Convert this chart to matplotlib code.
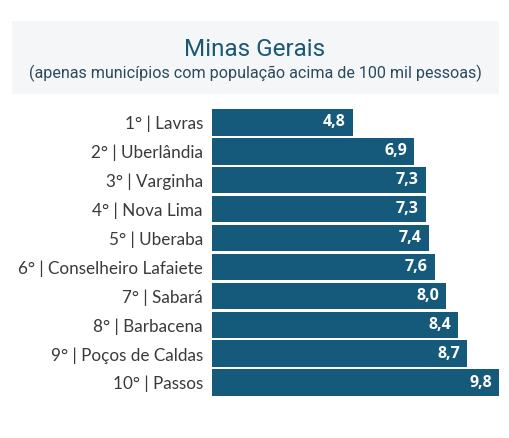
import matplotlib
matplotlib.use("Agg")
import matplotlib.pyplot as plt
from matplotlib.patches import Rectangle
from matplotlib.transforms import offset_copy

categories = ["1° | Lavras", "2° | Uberlândia", "3° | Varginha", "4° | Nova Lima",
              "5° | Uberaba", "6° | Conselheiro Lafaiete", "7° | Sabará",
              "8° | Barbacena", "9° | Poços de Caldas", "10° | Passos"]
values = [4.8, 6.9, 7.3, 7.3, 7.4, 7.6, 8.0, 8.4, 8.7, 9.8]
value_labels = ["4,8", "6,9", "7,3", "7,3", "7,4", "7,6", "8,0", "8,4", "8,7", "9,8"]
title = "Minas Gerais"
subtitle = "(apenas municípios com população acima de 100 mil pessoas)"

W, H, DPI = 510, 438, 100
fig = plt.figure(figsize=(W / DPI, H / DPI), dpi=DPI)
fig.patch.set_facecolor("white")

# title box
fig.patches.append(Rectangle((12 / W, 1 - 94 / H), 487 / W, 73 / H,
                             transform=fig.transFigure, facecolor="#f4f6f8",
                             edgecolor="none", zorder=0))
fig.text(255 / W, 1 - 56 / H, title, ha="center", va="baseline",
         fontsize=17.5, color="#1b5876", family="Roboto")
fig.text(255 / W, 1 - 78 / H, subtitle, ha="center", va="baseline",
         fontsize=11.6, color="#2a4a5e", family="Roboto")

left, right = 212 / W, 499 / W
top, bottom = 1 - 109 / H, 1 - 396 / H
ax = fig.add_axes([left, bottom, right - left, top - bottom])
bh = 0.92
ypos = list(range(len(values)))
ax.barh(ypos, values, height=bh, color="#155a7a")
ax.set_xlim(0, max(values))
ax.set_ylim(len(values) - 1 + bh / 2, -bh / 2)
ax.set_yticks(ypos)
ax.set_yticklabels(categories, fontsize=12.3, color="#3a3a3a", family="Lato")
ax.tick_params(axis="y", length=0, pad=6.5)
ax.set_xticks([])
for s in ax.spines.values():
    s.set_visible(False)
ax.patch.set_alpha(0)

for y, v, lab in zip(ypos, values, value_labels):
    tr = offset_copy(ax.transData, fig=fig, x=-7, y=0, units="dots")
    ax.text(v, y, lab, transform=tr, ha="right", va="center", color="white",
            fontsize=11.5, fontweight="bold", family="Open Sans")

fig.savefig("out.png", dpi=DPI)
